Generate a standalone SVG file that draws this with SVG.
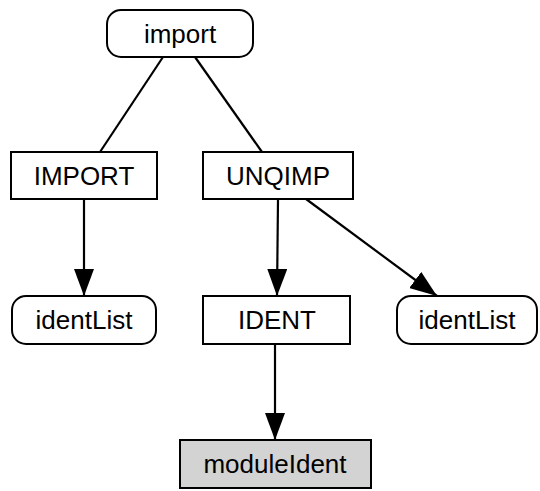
<svg xmlns="http://www.w3.org/2000/svg" width="540" height="491" viewBox="0 0 540 491">
<style>
.n{fill:#fff;stroke:#000;stroke-width:2}
.g{fill:#d3d3d3;stroke:#000;stroke-width:2}
.t{font-family:"Liberation Sans",Arial,sans-serif;font-size:26px;text-anchor:middle;fill:#000}
.e{stroke:#000;stroke-width:2.2;fill:none}
</style>
<defs>
<marker id="ah" viewBox="0 0 27 20" refX="27" refY="10" markerWidth="27" markerHeight="20" markerUnits="userSpaceOnUse" orient="auto">
<path d="M0,0 L27,10 L0,20 z" fill="#000"/>
</marker>
</defs>
<rect width="540" height="491" fill="#fff"/>
<g id="edges">
<line class="e" x1="163" y1="57" x2="100" y2="152"/>
<line class="e" x1="195" y1="57" x2="262" y2="152"/>
<line class="e" x1="84" y1="199" x2="84" y2="296" marker-end="url(#ah)"/>
<line class="e" x1="278" y1="199" x2="277" y2="296" marker-end="url(#ah)"/>
<line class="e" x1="306" y1="199" x2="437" y2="296" marker-end="url(#ah)"/>
<line class="e" x1="275" y1="344" x2="275" y2="440" marker-end="url(#ah)"/>
</g>
<g id="import"><rect class="n" x="107" y="10" width="146" height="47" rx="14"/><text class="t" x="180" y="43">import</text></g>
<g id="IMPORT"><rect class="n" x="11" y="152" width="146" height="47"/><text class="t" x="84" y="185">IMPORT</text></g>
<g id="UNQIMP"><rect class="n" x="203" y="152" width="150" height="47"/><text class="t" x="278" y="185">UNQIMP</text></g>
<g id="identList1"><rect class="n" x="12" y="296" width="144" height="48" rx="14"/><text class="t" x="84" y="329">identList</text></g>
<g id="IDENT"><rect class="n" x="203" y="296" width="147" height="48"/><text class="t" x="277" y="329">IDENT</text></g>
<g id="identList2"><rect class="n" x="397" y="296" width="140" height="48" rx="14"/><text class="t" x="467" y="329">identList</text></g>
<g id="moduleIdent"><rect class="g" x="180" y="440" width="191" height="48"/><text class="t" x="275" y="473">moduleIdent</text></g>
</svg>
